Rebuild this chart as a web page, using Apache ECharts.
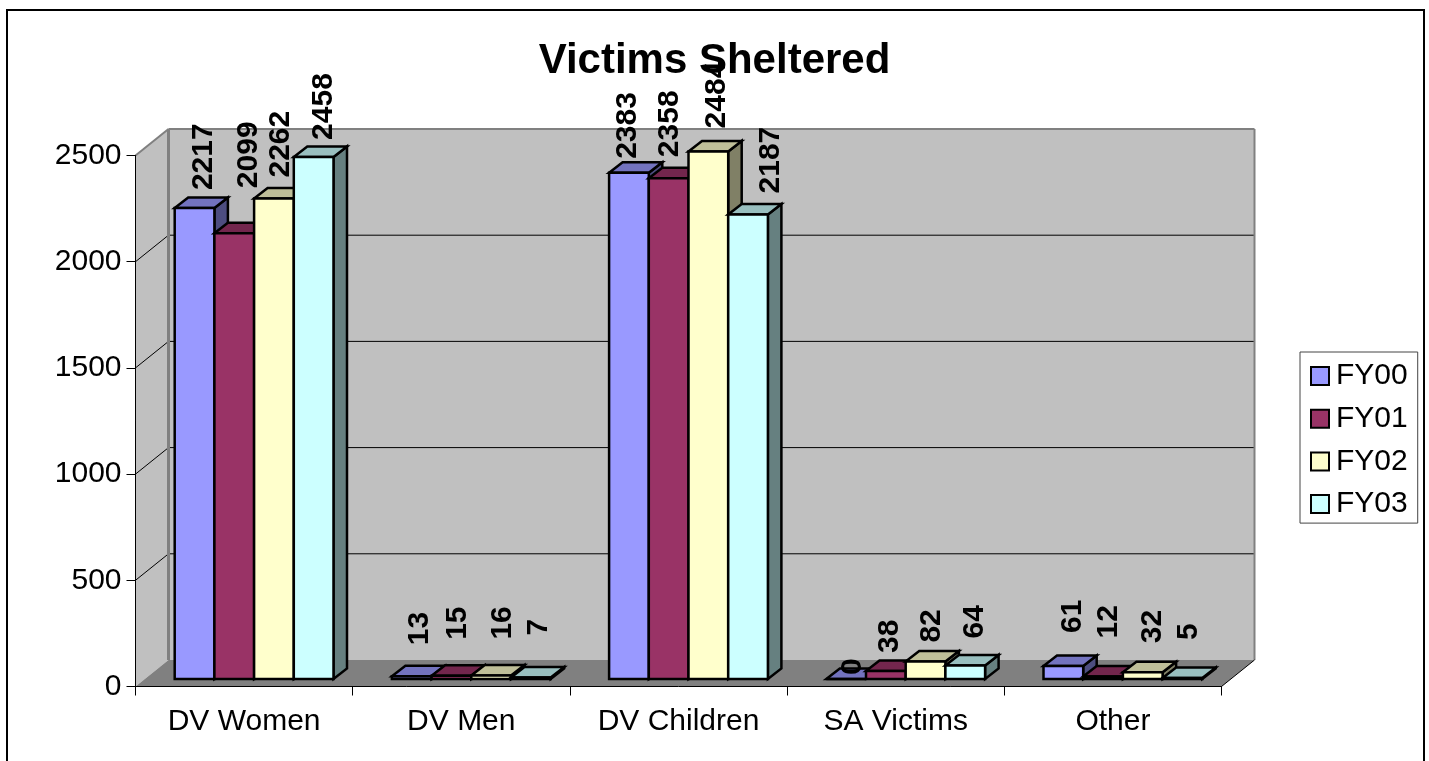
<!DOCTYPE html>
<html><head><meta charset="utf-8">
<style>html,body{margin:0;padding:0;background:#fff}#c{width:1429px;height:761px}</style>
<script src="https://cdn.jsdelivr.net/npm/echarts@6/dist/echarts.min.js"></script>
</head><body><div id="c"></div>
<script>
const categories = ['DV Women','DV Men','DV Children','SA Victims','Other'];
const seriesNames = ['FY00','FY01','FY02','FY03'];
const fy00 = [2217,13,2383,0,61];
const fy01 = [2099,15,2358,38,12];
const fy02 = [2262,16,2484,82,32];
const fy03 = [2458,7,2187,64,5];
const yTicks = [0,500,1000,1500,2000,2500];
const allValues = [fy00,fy01,fy02,fy03];
// label placement, per series then category: [shift right, gap above bar top]
const labelShift = [
  [[8,18],[6,31],[-3,14],[5,4],[8,33]],
  [[13,45],[5,36],[0,21],[2,18],[4,38]],
  [[5,21],[10,36],[7,23],[5,19],[8,29]],
  [[9,17],[6,42],[21,21],[8,27],[5,38]]
];
const front = ['#9999FF','#993366','#FFFFCC','#CCFFFF'];
const top3d = ['#7373BF','#73264D','#BFBF99','#99BFBF'];
const side3d = ['#4D4D80','#4D1933','#808066','#668080'];
const FONT = '"Liberation Sans", Arial, sans-serif';
const WALL = {x:33, y:-26.5}, BAR = {x:13.5, y:-10.5}, BASE = {x:10, y:-7.5};
const BAR_FRAC = 39.7/217.2;
const poly = (points, fill, stroke, lw) => ({type:'polygon', shape:{points}, style:{fill, stroke:stroke||'none', lineWidth:lw||0}});
const seg = (a,b,stroke,lw) => ({type:'line', shape:{x1:a[0],y1:a[1],x2:b[0],y2:b[1]}, style:{stroke, lineWidth:lw, fill:'none'}});

function renderWalls(params, api){
  const o = api.coord([0,0]), band = api.size([1,0])[0];
  const x0 = o[0]-band/2, x1 = x0+band*categories.length;
  const y0 = o[1], yT = api.coord([0,2500])[1];
  const bx0 = x0+WALL.x, bx1 = x1+WALL.x, by0 = y0+WALL.y, byT = yT+WALL.y;
  const kids = [
    poly([[bx0,byT],[bx1,byT],[bx1,by0],[bx0,by0]],'#C0C0C0'),
    poly([[x0,yT],[bx0,byT],[bx0,by0],[x0,y0]],'#C0C0C0'),
    poly([[x0,y0],[bx0,by0],[bx1,by0],[x1,y0]],'#808080')
  ];
  yTicks.slice(1,-1).forEach(v=>{
    const y = api.coord([0,v])[1];
    kids.push(seg([bx0,y+WALL.y],[bx1,y+WALL.y],'#000',1));
    kids.push(seg([x0,y],[bx0,y+WALL.y],'#000',1));
  });
  kids.push(seg([x0,yT],[bx0,byT],'#808080',2));
  kids.push(seg([bx0,byT],[bx1,byT],'#808080',2));
  kids.push(seg([bx0,byT],[bx0,by0],'#808080',3));
  kids.push(seg([bx1,byT],[bx1,by0],'#808080',2));
  kids.push(seg([x1,y0],[bx1,by0],'#000',1));
  return {type:'group', children:kids};
}
function renderBar(si){
  return function(params, api){
    const c = api.value(0), v = api.value(1);
    const band = api.size([1,0])[0], w = band*BAR_FRAC;
    const b = api.coord([c,0]), t = api.coord([c,v]);
    const xl = b[0]-2*w+si*w+BASE.x, xr = xl+w, yb = b[1]+BASE.y, yt = t[1]+BASE.y;
    const st = '#000', lw = 2.5;
    return {type:'group', children:[
      poly([[xr,yt],[xr+BAR.x,yt+BAR.y],[xr+BAR.x,yb+BAR.y],[xr,yb]],side3d[si],st,lw),
      poly([[xl,yt],[xl+BAR.x,yt+BAR.y],[xr+BAR.x,yt+BAR.y],[xr,yt]],top3d[si],st,lw),
      poly([[xl,yt],[xr,yt],[xr,yb],[xl,yb]],front[si],st,lw)
    ]};
  };
}
function renderLabel(params, api){
  const c = api.value(0), v = api.value(1), si = api.value(2);
  const band = api.size([1,0])[0], w = band*BAR_FRAC;
  const b = api.coord([c,v]);
  const s = labelShift[si][c];
  const xc = b[0]-2*w+si*w+BASE.x+w/2+s[0]+1.5, yt = b[1]+BASE.y-s[1];
  return {type:'text', x:xc, y:yt, rotation:Math.PI/2,
    style:{text:String(v), font:'bold 30px '+FONT, fill:'#000', textAlign:'left', textVerticalAlign:'middle'}};
}
const barSeries = seriesNames.map((name,si)=>({
  name, type:'custom', z:3, renderItem:renderBar(si),
  itemStyle:{color:front[si]},
  data:categories.map((_,c)=>[c,allValues[si][c]]),
  encode:{x:0,y:1}
}));
const labelData = [];
allValues.forEach((vals,si)=>vals.forEach((v,c)=>labelData.push([c,v,si])));
const chart = echarts.init(document.getElementById('c'),null,{renderer:'canvas'});
chart.setOption({
  animation:false,
  backgroundColor:'#fff',
  title:{text:'Victims Sheltered', left:'center', top:40, padding:0,
    textStyle:{fontFamily:FONT,fontWeight:'bold',fontSize:42,color:'#000'}, z:1},
  grid:{left:135.5, right:1429-1221.5, top:155.5, bottom:761-686.5, containLabel:false},
  legend:{orient:'vertical', left:1300, top:352, padding:[9,10,4,10], itemGap:12.7,
    itemWidth:18, itemHeight:18, icon:'rect', backgroundColor:'#fff',
    borderColor:'#444', borderWidth:1, borderRadius:0, data:seriesNames,
    itemStyle:{borderColor:'#000',borderWidth:2},
    textStyle:{fontFamily:FONT,fontSize:30,color:'#000',padding:[0,0,0,2]}},
  xAxis:{type:'category', data:categories, z:4,
    axisLine:{lineStyle:{color:'#000',width:1}},
    axisTick:{show:true,alignWithLabel:false,length:9,lineStyle:{color:'#000'}},
    axisLabel:{fontFamily:FONT,fontSize:30,color:'#000',margin:20,interval:0},
    splitLine:{show:false}},
  yAxis:{type:'value', min:0, max:2500, interval:500, z:4,
    axisLine:{show:true,lineStyle:{color:'#000',width:1}},
    axisTick:{show:true,length:9,lineStyle:{color:'#000'}},
    axisLabel:{fontFamily:FONT,fontSize:30,color:'#000',margin:14,padding:[6,0,0,0],formatter:v=>String(v)},
    splitLine:{show:false}},
  graphic:[{type:'rect', silent:true, z:-1, shape:{x:7,y:10,width:1417,height:800},
    style:{fill:'none',stroke:'#000',lineWidth:2}}],
  series:[
    {name:'walls', type:'custom', z:1, renderItem:renderWalls, data:[[0,0]], encode:{x:0,y:1}, silent:true},
    ...barSeries,
    {name:'labels', type:'custom', z:6, renderItem:renderLabel, data:labelData, encode:{x:0,y:1}, silent:true}
  ]
});
</script></body></html>
